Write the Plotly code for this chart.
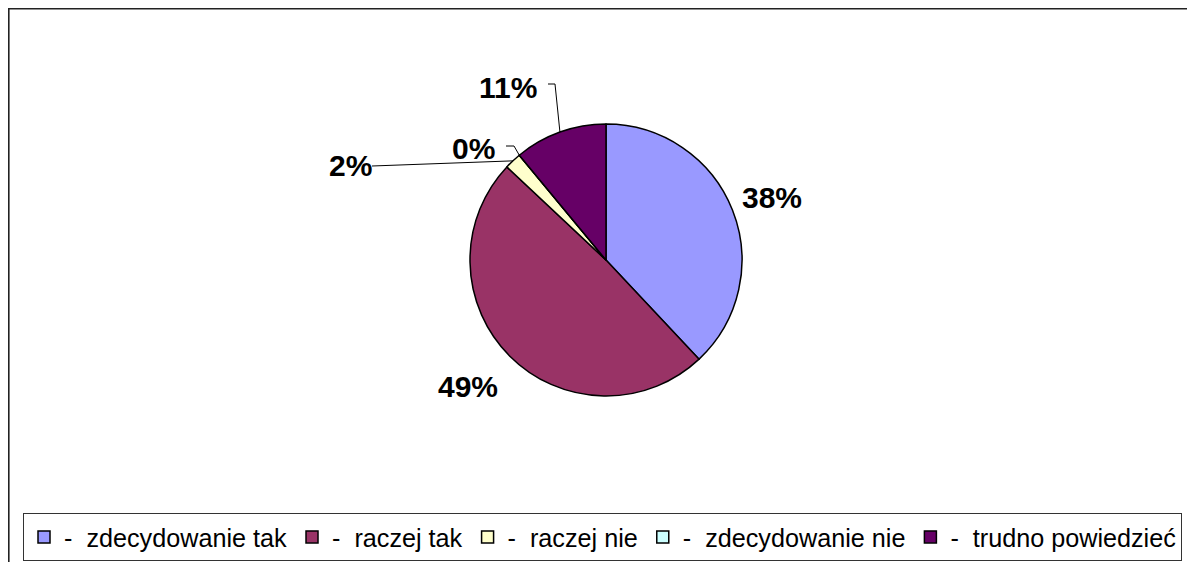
import math
import plotly.graph_objects as go

labels = ["zdecydowanie tak", "raczej tak", "raczej nie", "zdecydowanie nie", "trudno powiedzieć"]
values = [38, 49, 2, 0, 11]
colors = ["#9999FF", "#993366", "#FFFFCC", "#CCFFFF", "#660066"]

W, H = 1195, 562
OFF = 8  # page body margin
cx, cy, r = 606, 260, 136

# label centres and leader-line elbows (screen pixels)
label_pos = [(772, 197), (468, 386), (350, 165), (474, 148), (508, 88)]
leaders = [None, None, [(372, 166)], [(506, 146), (514, 146)], [(548, 84), (555, 84)]]


def pp(x, y):
    return (x - OFF) / W, 1 - (y - OFF) / H


dx0, dy1 = pp(cx - r, cy - r)
dx1, dy0 = pp(cx + r, cy + r)

fig = go.Figure(go.Pie(
    labels=["-\u00a0\u00a0" + l for l in labels],
    values=values,
    sort=False,
    direction="clockwise",
    rotation=0,
    marker=dict(colors=colors, line=dict(color="black", width=1.5)),
    textinfo="none",
    hoverinfo="label+percent",
    domain=dict(x=[dx0, dx1], y=[dy0, dy1]),
))

total = sum(values)
shapes = []
annotations = []
cum = 0
for v, pos, lead in zip(values, label_pos, leaders):
    mid = (cum + v / 2) / total * 2 * math.pi
    cum += v
    ex = cx + r * math.sin(mid)
    ey = cy - r * math.cos(mid)
    x, y = pp(*pos)
    annotations.append(dict(x=x, y=y, xref="paper", yref="paper", showarrow=False,
                            xanchor="center", yanchor="middle",
                            text=f"<b>{round(v / total * 100)}%</b>",
                            font=dict(size=30, family="Liberation Sans, Arial", color="black")))
    if lead:
        pts = lead + [(ex, ey)]
        path = "M" + " L".join(f"{pp(a, b)[0]},{pp(a, b)[1]}" for a, b in pts)
        shapes.append(dict(type="path", xref="paper", yref="paper", path=path,
                           line=dict(color="black", width=1)))

# outer chart frame
shapes.append(dict(type="rect", xref="paper", yref="paper", x0=0.8 / W, y0=-0.2, x1=1.2,
                   y1=1 - 0.8 / H, line=dict(color="#222", width=1.6)))

lx, ly = pp(23, 513)
fig.update_layout(
    width=W, height=H,
    margin=dict(l=0, r=0, t=0, b=0),
    paper_bgcolor="white",
    shapes=shapes,
    annotations=annotations,
    legend=dict(orientation="h", x=lx, y=ly, xanchor="left", yanchor="top",
                bordercolor="#333", borderwidth=1, bgcolor="white",
                font=dict(size=25.2, family="Liberation Sans, Arial", color="black")),
)

fig.write_html("out.html")
